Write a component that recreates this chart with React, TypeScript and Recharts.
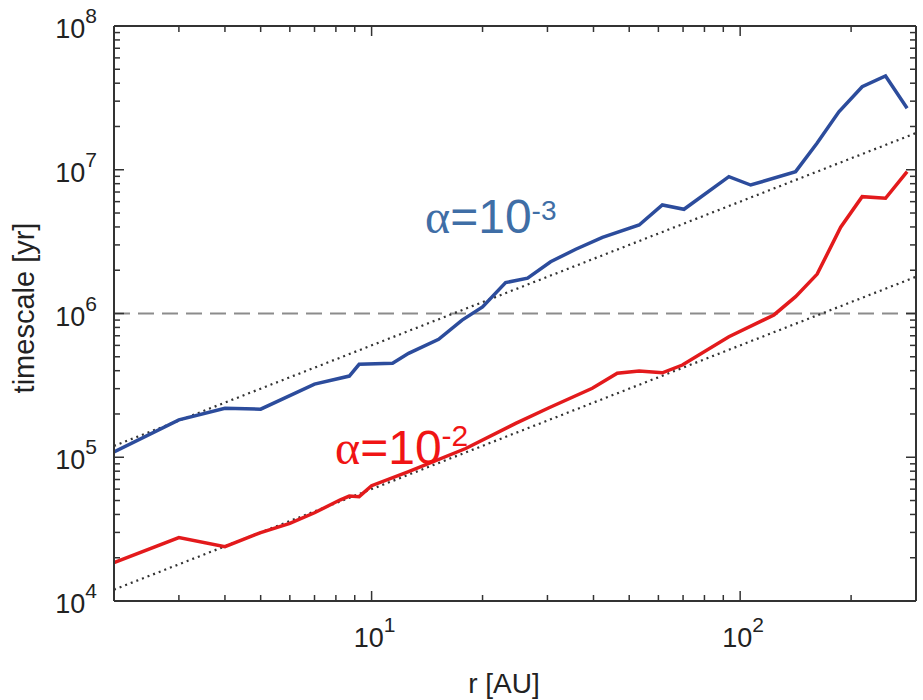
import React from "react";
import { Line, LineChart, ReferenceLine, XAxis, YAxis } from "recharts";

// alpha = 1e-3 run
const blueR = [2, 3, 4, 5, 7, 8.7, 9.25, 11.4, 12.6, 15.2, 17.6, 20, 23.1, 26.5, 30.6, 35.8, 42.3, 53.2, 61.5, 70.4, 93.2, 106.8, 141.4, 161.6, 185.3, 214.3, 248, 283.8];
const blueT = [1.09e5, 1.82e5, 2.19e5, 2.16e5, 3.23e5, 3.67e5, 4.43e5, 4.5e5, 5.28e5, 6.62e5, 9.0e5, 1.11e6, 1.64e6, 1.76e6, 2.29e6, 2.8e6, 3.39e6, 4.13e6, 5.69e6, 5.31e6, 8.95e6, 7.83e6, 9.7e6, 1.53e7, 2.53e7, 3.78e7, 4.49e7, 2.68e7];

// alpha = 1e-2 run
const redR = [2, 3, 4, 5, 6, 7, 8.2, 8.7, 9.25, 10, 12.6, 18, 24.6, 30.3, 39.7, 46.4, 53.2, 61.5, 69.7, 93.2, 123.5, 141.4, 161.8, 187.4, 214.3, 248, 283.8];
const redT = [1.85e4, 2.76e4, 2.39e4, 2.99e4, 3.47e4, 4.11e4, 5.04e4, 5.37e4, 5.32e4, 6.34e4, 7.94e4, 1.15e5, 1.72e5, 2.21e5, 3.02e5, 3.84e5, 3.98e5, 3.87e5, 4.38e5, 6.9e5, 9.77e5, 1.31e6, 1.88e6, 3.98e6, 6.5e6, 6.33e6, 9.7e6];

// dotted power-law guides (end points)
const fitR = [2, 300];
const blueFitT = [1.2e5, 1.8e7];
const redFitT = [1.2e4, 1.8e6];

const diskLife = 1e6;

const xMajor = [10, 100];
const xMinor = [3, 4, 5, 6, 7, 8, 9, 20, 30, 40, 50, 60, 70, 80, 90, 200];
const yMajor = [1e4, 1e5, 1e6, 1e7, 1e8];
const yMinor = [1e4, 1e5, 1e6, 1e7].flatMap((d) => [2, 3, 4, 5, 6, 7, 8, 9].map((k) => k * d));

const W = 923;
const H = 700;
const font = "'Liberation Sans', Arial, Helvetica, sans-serif";
const serif = "'Liberation Serif', 'Times New Roman', serif";
const axisColor = "#333";

const pairs = (r: number[], t: number[]) => r.map((v, i) => ({ r: v, t: t[i] }));
const blueData = pairs(blueR, blueT);
const redData = pairs(redR, redT);
const blueFit = pairs(fitR, blueFitT);
const redFit = pairs(fitR, redFitT);

const isMajor = (list: number[], v: number) => list.some((m) => Math.abs(m - v) / m < 1e-9);
const expOf = (v: number) => Math.round(Math.log10(v));

function BottomTick({ x, y, payload }: any) {
  const major = isMajor(xMajor, payload.value);
  return (
    <g>
      <line x1={x} x2={x} y1={y} y2={y - (major ? 10 : 6)} stroke={axisColor} strokeWidth={1.5} />
      {major && (
        <text x={x + 3} y={y + 46} textAnchor="middle" fontSize={27} fill="#222" fontFamily={font}>
          10<tspan dy={-15} fontSize={21}>{expOf(payload.value)}</tspan>
        </text>
      )}
    </g>
  );
}

function TopTick({ x, y, payload }: any) {
  const major = isMajor(xMajor, payload.value);
  return <line x1={x} x2={x} y1={y} y2={y + (major ? 10 : 6)} stroke={axisColor} strokeWidth={1.5} />;
}

function LeftTick({ x, y, payload }: any) {
  const major = isMajor(yMajor, payload.value);
  return (
    <g>
      <line x1={x} x2={x + (major ? 10 : 6)} y1={y} y2={y} stroke={axisColor} strokeWidth={1.5} />
      {major && (
        <text x={x - 17} y={y + 12} textAnchor="end" fontSize={27} fill="#222" fontFamily={font}>
          10<tspan dy={-15} fontSize={21}>{expOf(payload.value)}</tspan>
        </text>
      )}
    </g>
  );
}

function RightTick({ x, y, payload }: any) {
  const major = isMajor(yMajor, payload.value);
  return <line x1={x} x2={x - (major ? 10 : 6)} y1={y} y2={y} stroke={axisColor} strokeWidth={1.5} />;
}

export default function App() {
  const axisLine = { stroke: axisColor, strokeWidth: 2 };
  const xTicks = [...xMinor, ...xMajor];
  const yTicks = [...yMinor, ...yMajor];
  return (
    <div style={{ position: "relative", width: W, height: H }}>
      <style>{"html,body{margin:0;overflow:hidden;background:#fff}"}</style>
      <LineChart width={W} height={H} margin={{ top: 25, right: 6, bottom: 98, left: 113 }}>
        <XAxis
          dataKey="r"
          type="number"
          scale="log"
          domain={[2, 300]}
          allowDataOverflow
          ticks={xTicks}
          interval={0}
          height={1}
          tickSize={0}
          tickMargin={0}
          tickLine={false}
          axisLine={axisLine}
          tick={<BottomTick />}
        />
        <XAxis
          xAxisId="top"
          orientation="top"
          dataKey="r"
          type="number"
          scale="log"
          domain={[2, 300]}
          allowDataOverflow
          ticks={xTicks}
          interval={0}
          height={1}
          tickSize={0}
          tickMargin={0}
          tickLine={false}
          axisLine={axisLine}
          tick={<TopTick />}
        />
        <YAxis
          type="number"
          scale="log"
          domain={[1e4, 1e8]}
          allowDataOverflow
          ticks={yTicks}
          interval={0}
          width={1}
          tickSize={0}
          tickMargin={0}
          tickLine={false}
          axisLine={axisLine}
          tick={<LeftTick />}
        />
        <YAxis
          yAxisId="right"
          orientation="right"
          type="number"
          scale="log"
          domain={[1e4, 1e8]}
          allowDataOverflow
          ticks={yTicks}
          interval={0}
          width={1}
          tickSize={0}
          tickMargin={0}
          tickLine={false}
          axisLine={axisLine}
          tick={<RightTick />}
        />
        <ReferenceLine y={diskLife} stroke="#8c8c8c" strokeWidth={2} strokeDasharray="16 8" />
        <Line data={blueFit} dataKey="t" type="linear" stroke="#333" strokeWidth={2.2} strokeDasharray="2 4" dot={false} isAnimationActive={false} />
        <Line data={redFit} dataKey="t" type="linear" stroke="#333" strokeWidth={2.2} strokeDasharray="2 4" dot={false} isAnimationActive={false} />
        <Line data={blueData} dataKey="t" type="linear" stroke="#2c4c9c" strokeWidth={3.5} dot={false} isAnimationActive={false} />
        <Line data={redData} dataKey="t" type="linear" stroke="#e31a1c" strokeWidth={3.5} dot={false} isAnimationActive={false} />
      </LineChart>
      <svg width={W} height={H} style={{ position: "absolute", left: 0, top: 0, pointerEvents: "none" }}>
        <text x={425} y={233} fontSize={48} fill="#3f6ea6" fontFamily={font}>
          <tspan fontFamily={serif}>α</tspan>
          <tspan>=10</tspan>
          <tspan dy={-13} fontSize={28}>-3</tspan>
        </text>
        <text x={335} y={464} fontSize={48} fill="#f01414" fontFamily={font}>
          <tspan fontFamily={serif}>α</tspan>
          <tspan>=10</tspan>
          <tspan dy={-18} fontSize={30}>-2</tspan>
        </text>
        <text x={34} y={308} transform="rotate(-90, 34, 308)" textAnchor="middle" fontSize={29} fill="#222" fontFamily={font}>
          timescale [yr]
        </text>
        <text x={504} y={693} textAnchor="middle" fontSize={28} fill="#222" fontFamily={font}>
          r [AU]
        </text>
      </svg>
    </div>
  );
}
